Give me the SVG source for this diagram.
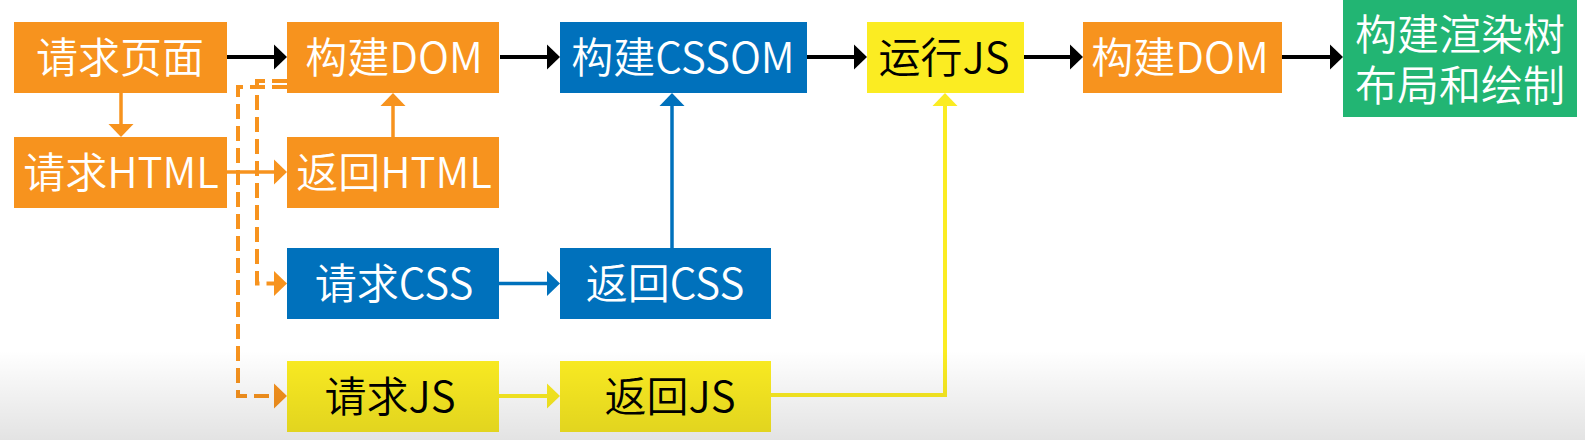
<svg xmlns="http://www.w3.org/2000/svg" width="1585" height="440" viewBox="0 0 1585 440">
<defs>
<style>
.o{fill:#F7931E}
.b{fill:#0071BC}
.y{fill:#FBEC22}
.g{fill:#22B573}
text{font-family:"Noto Sans CJK SC","Noto Sans",sans-serif;font-size:42px;font-weight:350;text-anchor:middle}
.w{fill:#FFFFFF}
.k{fill:#000000}
.ln{fill:none;stroke-width:4}
.lk{stroke:#000000}
.lo{stroke:#F7931E;stroke-width:3.5}
.lb{stroke:#0071BC;stroke-width:3.5}
.ly{stroke:#FBEC22;stroke-width:4}
.ld{stroke:#F7931E;stroke-width:4;stroke-dasharray:15 7}
</style>
<marker id="ak" markerUnits="userSpaceOnUse" markerWidth="14" markerHeight="26" refX="0" refY="12.5" orient="auto" overflow="visible"><path d="M0,0 L13,12.5 L0,25 z" fill="#000000"/></marker>
<marker id="ao" markerUnits="userSpaceOnUse" markerWidth="14" markerHeight="26" refX="0" refY="12.5" orient="auto" overflow="visible"><path d="M0,0 L13,12.5 L0,25 z" fill="#F7931E"/></marker>
<marker id="ab" markerUnits="userSpaceOnUse" markerWidth="14" markerHeight="26" refX="0" refY="12.5" orient="auto" overflow="visible"><path d="M0,0 L13,12.5 L0,25 z" fill="#0071BC"/></marker>
<marker id="ay" markerUnits="userSpaceOnUse" markerWidth="14" markerHeight="26" refX="0" refY="12.5" orient="auto" overflow="visible"><path d="M0,0 L13,12.5 L0,25 z" fill="#FBEC22"/></marker>
<linearGradient id="shade" x1="0" y1="0" x2="0" y2="1">
<stop offset="0" stop-color="#000000" stop-opacity="0"/>
<stop offset="1" stop-color="#000000" stop-opacity="0.11"/>
</linearGradient>
</defs>
<rect x="0" y="0" width="1585" height="440" fill="#FFFFFF"/>
<g id="connectors">
<path class="ln lk" d="M227,57 H274" marker-end="url(#ak)"/>
<path class="ln lk" d="M500,57 H547" marker-end="url(#ak)"/>
<path class="ln lk" d="M807,57 H854" marker-end="url(#ak)"/>
<path class="ln lk" d="M1024,57 H1070" marker-end="url(#ak)"/>
<path class="ln lk" d="M1282,57 H1330" marker-end="url(#ak)"/>
<path class="ln lo" d="M121,93 V124" marker-end="url(#ao)"/>
<path class="ln lo" d="M393,137 V106" marker-end="url(#ao)"/>
<path class="ln lo" d="M227,172 H274" marker-end="url(#ao)"/>
<path class="ln ld" d="M287,81 H257 V283.5 H274" marker-end="url(#ao)"/>
<path class="ln ld" d="M287,87 H238 V396 H274" marker-end="url(#ao)"/>
<path class="ln lb" d="M499,283.5 H547" marker-end="url(#ab)"/>
<path class="ln lb" d="M672,248 V106" marker-end="url(#ab)"/>
<path class="ln ly" d="M499,396 H547" marker-end="url(#ay)"/>
<path class="ln ly" d="M771,395 H945 V106" marker-end="url(#ay)"/>
</g>
<g id="n1"><rect class="o" x="14" y="22" width="213" height="71"/><text class="w" x="120" y="73">请求页面</text></g>
<g id="n2"><rect class="o" x="287" y="22" width="212" height="71"/><text class="w" x="394" y="73">构建DOM</text></g>
<g id="n3"><rect class="b" x="560" y="22" width="247" height="71"/><text class="w" x="683" y="73">构建CSSOM</text></g>
<g id="n4"><rect class="y" x="867" y="22" width="157" height="71"/><text class="k" x="944" y="73">运行JS</text></g>
<g id="n5"><rect class="o" x="1083" y="22" width="199" height="71"/><text class="w" x="1180" y="73">构建DOM</text></g>
<g id="n6"><rect class="g" x="1343" y="0" width="234" height="117"/><text class="w" x="1460" y="50">构建渲染树</text><text class="w" x="1460" y="101">布局和绘制</text></g>
<g id="n7"><rect class="o" x="14" y="137" width="213" height="71"/><text class="w" x="121" y="188">请求HTML</text></g>
<g id="n8"><rect class="o" x="287" y="137" width="212" height="71"/><text class="w" x="394" y="188">返回HTML</text></g>
<g id="n9"><rect class="b" x="287" y="248" width="212" height="71"/><text class="w" x="394" y="299">请求CSS</text></g>
<g id="n10"><rect class="b" x="560" y="248" width="211" height="71"/><text class="w" x="665" y="299">返回CSS</text></g>
<g id="n11"><rect class="y" x="287" y="361" width="212" height="71"/><text class="k" x="390" y="412">请求JS</text></g>
<g id="n12"><rect class="y" x="560" y="361" width="211" height="71"/><text class="k" x="670" y="412">返回JS</text></g>
<rect x="0" y="350" width="1585" height="90" fill="url(#shade)"/>
</svg>
